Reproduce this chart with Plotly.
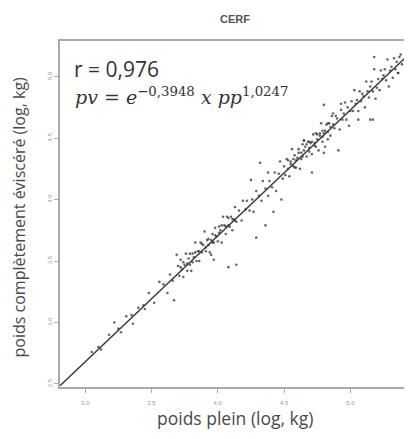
import plotly.graph_objects as go

# ---- data ----
pp_log = [
    3.05, 3.12, 3.18, 3.22, 3.27, 3.31, 3.36, 3.40, 3.45, 3.48, 3.52, 3.56, 3.59, 3.62, 3.67, 3.69, 3.64, 3.66,
    3.70, 3.71, 3.72, 3.73, 3.74, 3.75, 3.76, 3.77, 3.78, 3.79, 3.80, 3.81, 3.82, 3.83, 3.84,
    3.85, 3.86, 3.87, 3.88, 3.89, 3.90, 3.91, 3.92, 3.93, 3.94, 3.95, 3.96, 3.97, 3.98, 3.99,
    4.00, 4.01, 4.02, 4.03, 4.04, 4.05, 4.06, 4.07, 4.08, 4.09, 4.10, 4.11, 4.12, 4.13, 4.14,
    4.16, 4.18, 4.19, 4.21, 4.22, 4.24, 4.26, 4.27, 4.29, 4.31, 4.33, 4.34, 4.36, 4.38, 4.39,
    4.41, 4.43, 4.44, 4.46, 4.47, 4.49,
    4.50, 4.51, 4.52, 4.53, 4.54, 4.55, 4.56, 4.57, 4.58, 4.59, 4.60, 4.61, 4.62, 4.63, 4.64,
    4.65, 4.66, 4.67, 4.68, 4.69, 4.70, 4.71, 4.72, 4.73, 4.74, 4.75, 4.76, 4.77, 4.78, 4.79,
    4.80, 4.81, 4.82, 4.83, 4.84, 4.85, 4.86, 4.87, 4.88, 4.89,
    4.53, 4.58, 4.64, 4.69, 4.74, 4.79, 4.83, 4.87,
    4.90, 4.92, 4.93, 4.94, 4.96, 4.97, 4.98, 4.99, 5.01, 5.02, 5.03, 5.04, 5.06, 5.07, 5.08, 5.09,
    5.11, 5.12, 5.13, 5.14, 5.16, 5.17, 5.18, 5.19, 5.21, 5.22, 5.23, 5.24, 5.26, 5.27, 5.28, 5.29,
    5.31, 5.32, 5.33, 5.34, 5.36, 5.37, 5.38, 5.39,
    3.95, 3.97, 4.08, 4.14, 4.29, 4.36, 4.42, 4.48, 4.32, 4.38, 4.25, 4.71, 4.80, 4.93, 5.06, 5.15,
    4.91, 4.80, 4.65, 5.17, 5.18, 5.36,
    3.72, 3.74, 3.77, 3.79, 3.81, 3.83, 3.86, 3.88, 3.91, 3.93, 3.96, 3.98, 4.01, 4.03, 4.06, 4.08, 4.11, 4.13,
    4.55, 4.57, 4.59, 4.61, 4.63, 4.65, 4.67, 4.69, 4.71, 4.73, 4.75, 4.77, 4.79, 4.81, 4.83, 4.85,
    4.95, 5.00, 5.05, 5.10, 5.15, 5.20, 5.25, 5.30, 5.35,
    3.10, 3.25, 3.35, 3.44,
]
pv_log = [
    2.76, 2.78, 2.90, 3.00, 2.92, 3.05, 2.99, 3.12, 3.11, 3.24, 3.16, 3.33, 3.31, 3.24, 3.18, 3.55, 3.39, 3.34,
    3.46, 3.38, 3.51, 3.43, 3.37, 3.47, 3.56, 3.42, 3.52, 3.47, 3.42, 3.56, 3.53, 3.65, 3.50,
    3.58, 3.50, 3.65, 3.57, 3.63, 3.74, 3.58, 3.67, 3.63, 3.57, 3.67, 3.72, 3.65, 3.77, 3.70,
    3.66, 3.78, 3.75, 3.65, 3.86, 3.79, 3.72, 3.86, 3.79, 3.78, 3.86, 3.75, 3.84, 3.94, 3.82,
    3.91, 3.83, 3.99, 3.92, 3.99, 3.91, 4.00, 3.90, 4.07, 4.03, 3.99, 4.15, 4.09, 4.03, 4.15,
    4.10, 4.22, 4.07, 4.21, 4.31, 4.17,
    4.27, 4.20, 4.33, 4.25, 4.19, 4.31, 4.41, 4.27, 4.36, 4.26, 4.34, 4.41, 4.25, 4.38, 4.35,
    4.48, 4.43, 4.35, 4.47, 4.39, 4.46, 4.37, 4.53, 4.46, 4.43, 4.53, 4.40, 4.52, 4.62, 4.47,
    4.54, 4.43, 4.61, 4.55, 4.62, 4.52, 4.68, 4.61, 4.58, 4.68,
    4.32, 4.26, 4.45, 4.47, 4.54, 4.56, 4.49, 4.70,
    4.66, 4.57, 4.73, 4.65, 4.79, 4.65, 4.75, 4.60, 4.80, 4.72, 4.89, 4.78, 4.72, 4.88, 4.80, 4.86,
    4.75, 4.96, 4.88, 4.83, 4.96, 4.88, 5.06, 4.82, 4.98, 4.89, 5.05, 4.98, 5.06, 4.97, 5.14, 4.92,
    5.08, 4.99, 5.15, 5.06, 5.03, 5.16, 5.18, 5.10,
    3.55, 3.51, 3.45, 3.47, 3.69, 3.79, 3.90, 4.00, 4.30, 4.22, 4.16, 4.22, 4.77, 4.78, 4.65, 4.65,
    4.40, 4.38, 4.48, 4.65, 5.16, 5.03,
    3.45, 3.49, 3.48, 3.56, 3.49, 3.57, 3.58, 3.64, 3.61, 3.68, 3.65, 3.71, 3.73, 3.79, 3.78, 3.85, 3.84, 3.83,
    4.29, 4.33, 4.32, 4.38, 4.33, 4.40, 4.45, 4.42, 4.47, 4.44, 4.49, 4.54, 4.51, 4.56, 4.62, 4.59,
    4.70, 4.72, 4.81, 4.84, 4.92, 4.91, 5.01, 5.05, 5.12,
    2.80, 2.95, 3.06, 3.14,
]

intercept = -0.3948
slope = 1.0247
r_value = "0,976"

x_range = [2.81, 5.45]
y_range = [2.475, 5.29]
x_ticks = [3.0, 3.5, 4.0, 4.5, 5.0]
y_ticks = [2.5, 3.0, 3.5, 4.0, 4.5, 5.0]

fit_x = x_range
fit_y = [intercept + slope * v for v in fit_x]

fig = go.Figure()
fig.add_trace(go.Scatter(
    x=pp_log, y=pv_log, mode="markers",
    marker=dict(size=2.6, color="rgba(45,45,45,0.72)", line=dict(width=0)),
    showlegend=False, hoverinfo="skip",
))
fig.add_trace(go.Scatter(
    x=fit_x, y=fit_y, mode="lines",
    line=dict(color="#3a3a3a", width=1.5),
    showlegend=False, hoverinfo="skip",
))

axis_common = dict(
    showgrid=False, zeroline=False, showline=True, mirror=True,
    linecolor="#aaaaaa", linewidth=1.5,
    ticks="outside", ticklen=4, tickcolor="#aaaaaa", tickwidth=1,
    tickfont=dict(family="Liberation Sans, Arial, sans-serif", size=6, color="#999999"),
)

fig.update_layout(
    width=404, height=431,
    margin=dict(l=52, r=0, t=33, b=52),
    paper_bgcolor="white", plot_bgcolor="white",
    xaxis=dict(range=x_range, tickvals=x_ticks, ticktext=[f"{v:.1f}" for v in x_ticks],
               ticklabelstandoff=5, **axis_common),
    yaxis=dict(range=y_range, tickvals=y_ticks, ticktext=[f"{v:.1f}" for v in y_ticks],
               tickangle=-90, ticklabelstandoff=0, **axis_common),
    annotations=[
        dict(text="<b>CERF</b>", xref="paper", yref="paper", x=0.5, y=1.0,
             yshift=22, yanchor="middle", showarrow=False,
             font=dict(family="Liberation Sans, Arial, sans-serif", size=11, color="#555555")),
        dict(text="poids plein (log, kg)", xref="paper", yref="paper", x=0.5, y=0,
             yshift=-31, showarrow=False, yanchor="middle",
             font=dict(family="Open Sans, sans-serif", size=17.5, color="#4a4a4a")),
        dict(text="poids complètement éviscéré (log, kg)", xref="paper", yref="paper",
             x=0, xshift=-41, y=0.49, showarrow=False, textangle=-90, xanchor="center",
             font=dict(family="Open Sans, sans-serif", size=16, color="#4a4a4a")),
        dict(text=f"r = {r_value}", xref="paper", yref="paper", x=0, xshift=12, y=1,
             yshift=-27.5, xanchor="left", yanchor="middle", showarrow=False,
             font=dict(family="Open Sans, sans-serif", size=21, color="#333333")),
        dict(text="<i>pv</i> = <i>e</i><sup>−0,3948</sup> <i>x pp</i><sup>1,0247</sup>",
             xref="paper", yref="paper", x=0, xshift=13, y=1, yshift=-55,
             xanchor="left", yanchor="middle", showarrow=False,
             font=dict(family="DejaVu Serif, serif", size=19, color="#333333")),
    ],
)

fig.write_html("out.html")
